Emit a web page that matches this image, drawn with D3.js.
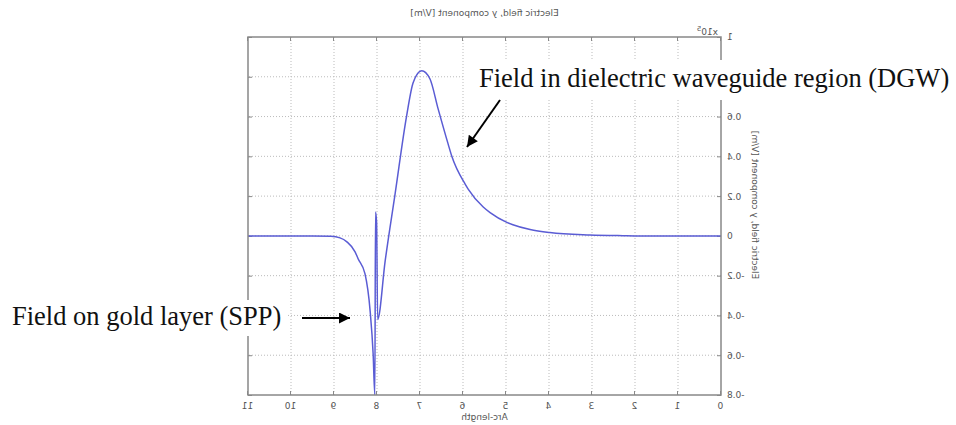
<!DOCTYPE html>
<html>
<head>
<meta charset="utf-8">
<script src="https://cdn.jsdelivr.net/npm/d3@7"></script>
<style>
body { margin: 0; background: #fff; }
svg { display: block; }
.axis text { font-family: "DejaVu Sans", sans-serif; font-size: 9px; fill: #555; }
.note { font-family: "Liberation Serif", "Times New Roman", serif; font-size: 26.5px; fill: #111; }
</style>
</head>
<body>
<svg id="svg" width="956" height="425"></svg>
<script>
// arc-length along the cut line, and E_y (x10^5 V/m)
const arcLength = [0, 1, 2, 2.28, 3.05, 3.98, 4.44, 4.84, 4.98, 5.37, 5.53, 5.88, 5.95, 6.26, 6.35, 6.58, 6.77, 6.96, 7.16, 7.31, 7.58, 7.81, 7.985, 8.01, 8.035, 8.05, 8.09, 8.16, 8.28, 8.44, 8.51, 8.70, 8.86, 9.07, 9.5, 10, 11];
const fieldY = [0, 0, 0, 0.001, 0.005, 0.017, 0.032, 0.056, 0.068, 0.117, 0.145, 0.235, 0.26, 0.40, 0.465, 0.64, 0.79, 0.83, 0.77, 0.605, 0.21, -0.126, -0.42, 0.07, 0.12, -0.80, -0.593, -0.377, -0.19, -0.115, -0.08, -0.03, -0.01, -0.002, 0, 0, 0];

const xTicks = [0, 1, 2, 3, 4, 5, 6, 7, 8, 9, 10, 11];
const yTicks = [-0.8, -0.6, -0.4, -0.2, 0, 0.2, 0.4, 0.6, 0.8, 1];
// 0.8 sits under the DGW note in the picture
const yTickLabels = ["-0.8", "-0.6", "-0.4", "-0.2", "0", "0.2", "0.4", "0.6", "", "1"];

const notes = [
  { text: "Field in dielectric waveguide region (DGW)", x: 479, y: 87, box: [465, 60, 490, 40] },
  { text: "Field on gold layer (SPP)", x: 12, y: 325, box: [5, 300, 283, 36] }
];
const arrows = [
  { x1: 500, y1: 100, x2: 467, y2: 147 },
  { x1: 302, y1: 318, x2: 350, y2: 318 }
];

const L = 248, R = 721, T = 37, B = 395;

const svg = d3.select('#svg');

// the whole plot is shown mirrored left-right
const chart = svg.append('g')
  .attr('transform', 'translate(' + (L + R) + ',0) scale(-1,1)');

const xScale = d3.scaleLinear().domain([0, 11]).range([L, R]);
const yScale = d3.scaleLinear().domain([-0.8, 1]).range([B, T]);

//grid
chart.append('g')
  .selectAll('line')
  .data(xTicks.slice(1, -1))
  .enter().append('line')
  .attr('x1', d => xScale(d)).attr('x2', d => xScale(d))
  .attr('y1', T).attr('y2', B)
  .attr('stroke', '#bbb').attr('stroke-dasharray', '1,2');

chart.append('g')
  .selectAll('line')
  .data(yTicks.slice(1, -1))
  .enter().append('line')
  .attr('x1', L).attr('x2', R)
  .attr('y1', d => yScale(d)).attr('y2', d => yScale(d))
  .attr('stroke', '#bbb').attr('stroke-dasharray', '1,2');

// x axis
chart.append('g')
  .attr('class', 'axis')
  .attr('transform', 'translate(0,' + B + ')')
  .call(d3.axisBottom(xScale).tickValues(xTicks).tickSize(-4).tickPadding(8).tickFormat(d3.format('d')))
  .call(g => g.select('.domain').remove())
  .call(g => g.selectAll('line').attr('stroke', '#888'));

chart.append('g')
  .attr('transform', 'translate(0,' + T + ')')
  .call(d3.axisTop(xScale).tickValues(xTicks).tickSize(-4).tickFormat(''))
  .call(g => g.select('.domain').remove())
  .call(g => g.selectAll('line').attr('stroke', '#888'));

// y axis
chart.append('g')
  .attr('class', 'axis')
  .attr('transform', 'translate(' + L + ',0)')
  .call(d3.axisLeft(yScale).tickValues(yTicks).tickSize(-4).tickPadding(6).tickFormat((d, i) => yTickLabels[i]))
  .call(g => g.select('.domain').remove())
  .call(g => g.selectAll('line').attr('stroke', '#888'));

chart.append('g')
  .attr('transform', 'translate(' + R + ',0)')
  .call(d3.axisRight(yScale).tickValues(yTicks).tickSize(-4).tickFormat(''))
  .call(g => g.select('.domain').remove())
  .call(g => g.selectAll('line').attr('stroke', '#888'));

// curve
chart.append('defs').append('clipPath').attr('id', 'clip')
  .append('rect').attr('x', L).attr('y', T).attr('width', R - L).attr('height', B - T);

const line = d3.line()
  .x((d, i) => xScale(arcLength[i]))
  .y(d => yScale(d))
  .curve(d3.curveMonotoneX);

chart.append('path')
  .datum(fieldY)
  .attr('clip-path', 'url(#clip)')
  .attr('d', line)
  .attr('fill', 'none')
  .attr('stroke', '#5a5cd4')
  .attr('stroke-width', 1.5);

// frame
chart.append('rect')
  .attr('x', L).attr('y', T).attr('width', R - L).attr('height', B - T)
  .attr('fill', 'none').attr('stroke', '#888').attr('stroke-width', 1.5);

// labels
const lab = chart.append('g').attr('class', 'axis');
lab.append('text')
  .attr('x', (L + R) / 2).attr('y', 16)
  .attr('text-anchor', 'middle')
  .text('Electric field, y component [V/m]');
lab.append('text')
  .attr('x', (L + R) / 2).attr('y', 420)
  .attr('text-anchor', 'middle')
  .text('Arc-length');
lab.append('text')
  .attr('transform', 'translate(' + (L + R - 752) + ',205) rotate(-90)')
  .attr('text-anchor', 'middle')
  .text('Electric field, y component [V/m]');
const mult = lab.append('text').attr('x', L + 3).attr('y', 35);
mult.append('tspan').text('x10');
mult.append('tspan').attr('dy', -4).style('font-size', '7px').text('5');

// annotations
const ann = svg.append('g');
ann.selectAll('rect')
  .data(notes)
  .enter().append('rect')
  .attr('x', d => d.box[0]).attr('y', d => d.box[1])
  .attr('width', d => d.box[2]).attr('height', d => d.box[3])
  .attr('fill', '#fff');
ann.selectAll('text')
  .data(notes)
  .enter().append('text')
  .attr('class', 'note')
  .attr('x', d => d.x).attr('y', d => d.y)
  .text(d => d.text);

svg.append('defs').append('marker')
  .attr('id', 'head')
  .attr('viewBox', '0 0 10 10')
  .attr('refX', 10).attr('refY', 5)
  .attr('markerWidth', 16).attr('markerHeight', 11)
  .attr('markerUnits', 'userSpaceOnUse')
  .attr('orient', 'auto')
  .append('path').attr('d', 'M0,0 L10,5 L0,10 Z').attr('fill', '#000');

ann.selectAll('line')
  .data(arrows)
  .enter().append('line')
  .attr('x1', d => d.x1).attr('y1', d => d.y1)
  .attr('x2', d => d.x2).attr('y2', d => d.y2)
  .attr('stroke', '#000').attr('stroke-width', 2)
  .attr('marker-end', 'url(#head)');
</script>
</body>
</html>
